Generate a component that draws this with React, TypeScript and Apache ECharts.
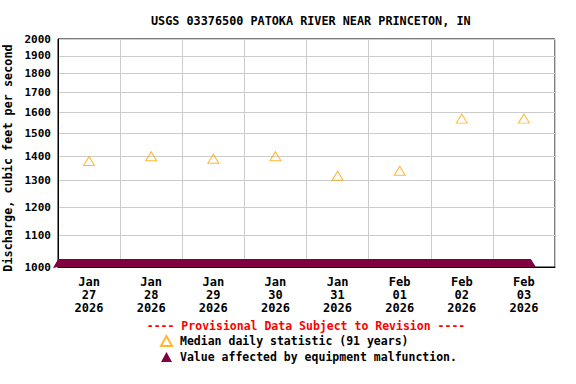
import React, { useEffect, useRef } from "react";
import * as echarts from "echarts";

const titleText = "USGS 03376500 PATOKA RIVER NEAR PRINCETON, IN";
const yAxisName = "Discharge, cubic feet per second";
const months = ["Jan", "Jan", "Jan", "Jan", "Jan", "Feb", "Feb", "Feb"];
const days = ["27", "28", "29", "30", "31", "01", "02", "03"];
const years = ["2026", "2026", "2026", "2026", "2026", "2026", "2026", "2026"];
const medianValues = [1380, 1400, 1390, 1400, 1320, 1340, 1570, 1570];
const yTicks = [1000, 1100, 1200, 1300, 1400, 1500, 1600, 1700, 1800, 1900, 2000];
// malfunction period: days since Jan 27 00:00, plotted at the axis floor
const malfunctionStart = [0];
const malfunctionEnd = [7.66];
const malfunctionValue = [1000];
const medianName = "Median daily statistic (91 years)";
const malfunctionName = "Value affected by equipment malfunction.";
const provisionalText = "---- Provisional Data Subject to Revision ----";

const FONT = "'DejaVu Sans Mono', monospace";
const MAROON = "#800040";
const ORANGE = "#FFA500";

export default function App() {
  const ref = useRef<HTMLDivElement>(null);
  useEffect(() => {
    if (!ref.current) return;
    const chart = echarts.init(ref.current, undefined, { renderer: "svg" });
    const categories = months.map((m, i) => `${m}\n${days[i]}\n${years[i]}`);
    const malfunctionData = malfunctionStart.map((s, i) => [s, malfunctionEnd[i], malfunctionValue[i]]);
    chart.setOption({
      animation: false,
      backgroundColor: "#fff",
      textStyle: { fontFamily: FONT },
      title: {
        text: titleText,
        left: 146,
        top: 10,
        textStyle: { fontFamily: FONT, fontSize: 11.8, fontWeight: "bold", color: "#000" },
      },
      grid: {
        left: 58,
        right: 21,
        top: 39,
        bottom: 117,
        outerBoundsMode: "none",
        containLabel: false,
        show: true,
        borderColor: "#000",
        borderWidth: 1,
        backgroundColor: "transparent",
      },
      legend: {
        orient: "vertical",
        left: 155,
        top: 330,
        itemWidth: 11,
        itemHeight: 10,
        itemGap: 4,
        textStyle: { fontFamily: FONT, fontSize: 11.5, fontWeight: "bold", color: "#000", padding: [0, 0, 0, 3] },
        data: [
          { name: medianName, icon: "triangle" },
          { name: malfunctionName, icon: "triangle" },
        ],
      },
      xAxis: [
        {
          type: "value",
          min: 0,
          max: 8,
          interval: 1,
          position: "bottom",
          axisLine: { show: true, lineStyle: { color: "#000", width: 1 } },
          axisTick: { show: false },
          axisLabel: { show: false },
          splitLine: { show: true, lineStyle: { color: "#cccccc", width: 1 } },
        },
        {
          type: "category",
          data: categories,
          boundaryGap: true,
          position: "bottom",
          axisLine: { show: false },
          axisTick: { show: false },
          splitLine: { show: false },
          axisLabel: {
            margin: 8,
            fontFamily: FONT,
            fontSize: 12,
            fontWeight: "bold",
            color: "#000",
            lineHeight: 13,
            interval: 0,
          },
        },
      ],
      yAxis: {
        type: "log",
        logBase: 10,
        min: 1000,
        max: 2000,
        name: yAxisName,
        nameLocation: "middle",
        nameGap: 38,
        nameRotate: 90,
        nameTextStyle: { fontFamily: FONT, fontSize: 11.8, fontWeight: "bold", color: "#000", padding: [0, 10, 0, 0] },
        axisLine: { show: true, lineStyle: { color: "#000", width: 1 } },
        axisTick: { show: false, customValues: yTicks },
        axisLabel: {
          customValues: yTicks,
          margin: 7,
          fontFamily: FONT,
          fontSize: 11,
          fontWeight: "bold",
          color: "#000",
          formatter: (v: number) => String(Math.round(v)),
        },
        splitLine: { show: true, lineStyle: { color: "#cccccc", width: 1 } },
      },
      graphic: [
        {
          type: "text",
          x: 306,
          y: 326,
          style: {
            text: provisionalText,
            fill: "#FF0000",
            font: `bold 11.5px ${FONT}`,
            textAlign: "center",
            textVerticalAlign: "middle",
          },
        },
      ],
      series: [
        {
          name: medianName,
          type: "scatter",
          xAxisIndex: 1,
          yAxisIndex: 0,
          data: medianValues,
          symbol: "triangle",
          symbolSize: [11, 9],
          itemStyle: { color: "rgba(255,255,255,0)", borderColor: ORANGE, borderWidth: 1 },
          z: 5,
        },
        {
          name: malfunctionName,
          type: "custom",
          xAxisIndex: 0,
          yAxisIndex: 0,
          data: malfunctionData,
          itemStyle: { color: MAROON },
          clip: false,
          z: 4,
          renderItem: (params: any, api: any) => {
            const p0 = api.coord([api.value(0), api.value(2)]);
            const p1 = api.coord([api.value(1), api.value(2)]);
            const yb = p0[1];
            const h = 8;
            return {
              type: "polygon",
              shape: {
                points: [
                  [p0[0] - 5, yb + 1],
                  [p0[0] - 1, yb - h + 2],
                  [p0[0], yb - h],
                  [p1[0] - 3, yb - h],
                  [p1[0] + 2, yb],
                  [p0[0], yb],
                ],
              },
              style: { fill: MAROON },
            };
          },
        },
      ],
    });
    return () => chart.dispose();
  }, []);
  return <div ref={ref} style={{ position: "fixed", left: 0, top: 0, width: 576, height: 384 }} />;
}
